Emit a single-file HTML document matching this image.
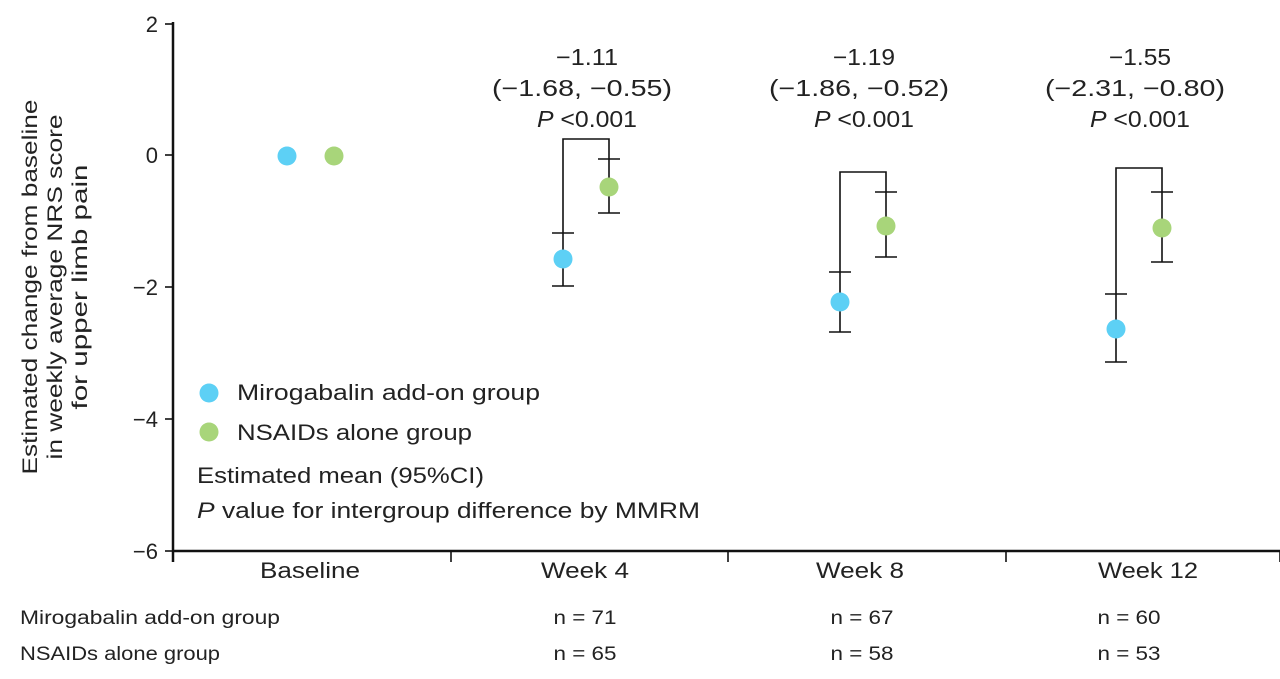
<!DOCTYPE html>
<html><head><meta charset="utf-8"><style>body{margin:0;background:#fff}svg{display:block}</style></head><body>
<svg width="1280" height="679" viewBox="0 0 1280 679" xmlns="http://www.w3.org/2000/svg" font-family="Liberation Sans, sans-serif" fill="#222">
<g stroke="#111" stroke-width="2.5" fill="none">
<line x1="173" y1="22" x2="173" y2="562"/>
<line x1="172" y1="551" x2="1282" y2="551"/>
</g>
<g stroke="#111" stroke-width="1.6">
<line x1="165" y1="24" x2="173" y2="24"/><line x1="165" y1="155" x2="173" y2="155"/>
<line x1="165" y1="287" x2="173" y2="287"/><line x1="165" y1="419" x2="173" y2="419"/>
<line x1="165" y1="551" x2="173" y2="551"/>
<line x1="451" y1="551" x2="451" y2="562"/><line x1="728" y1="551" x2="728" y2="562"/>
<line x1="1006" y1="551" x2="1006" y2="562"/><line x1="1280" y1="551" x2="1280" y2="562"/>
</g>
<g font-size="22" text-anchor="end">
<text x="158" y="32">2</text><text x="158" y="163">0</text>
<text x="158" y="295">−2</text><text x="158" y="427">−4</text><text x="158" y="559">−6</text>
</g>
<g font-size="22" text-anchor="middle">
<text x="310" y="578" textLength="100" lengthAdjust="spacingAndGlyphs">Baseline</text>
<text x="585" y="578" textLength="88" lengthAdjust="spacingAndGlyphs">Week 4</text>
<text x="860" y="578" textLength="88" lengthAdjust="spacingAndGlyphs">Week 8</text>
<text x="1148" y="578" textLength="100" lengthAdjust="spacingAndGlyphs">Week 12</text>
</g>
<g font-size="21" text-anchor="middle" transform="rotate(-90)">
<text x="-287" y="37" textLength="375" lengthAdjust="spacingAndGlyphs">Estimated change from baseline</text>
<text x="-287" y="62" textLength="345" lengthAdjust="spacingAndGlyphs">in weekly average NRS score</text>
<text x="-287" y="87" textLength="245" lengthAdjust="spacingAndGlyphs">for upper limb pain</text>
</g>
<g stroke="#111" stroke-width="1.6" fill="none">
<path d="M552 233H574M563 233V286M552 286H574"/>
<path d="M598 159H620M609 159V213M598 213H620"/>
<path d="M563 233V139H609V159"/>
<path d="M829 272H851M840 272V332M829 332H851"/>
<path d="M875 192H897M886 192V257M875 257H897"/>
<path d="M840 272V172H886V192"/>
<path d="M1105 294H1127M1116 294V362M1105 362H1127"/>
<path d="M1151 192H1173M1162 192V262M1151 262H1173"/>
<path d="M1116 294V168H1162V192"/>
</g>
<g fill="#5dd0f5"><circle cx="287" cy="156" r="9.5"/><circle cx="563" cy="259" r="9.5"/><circle cx="840" cy="302" r="9.5"/><circle cx="1116" cy="329" r="9.5"/><circle cx="209" cy="393" r="9.5"/></g>
<g fill="#a8d57a"><circle cx="334" cy="156" r="9.5"/><circle cx="609" cy="187" r="9.5"/><circle cx="886" cy="226" r="9.5"/><circle cx="1162" cy="228" r="9.5"/><circle cx="209" cy="432" r="9.5"/></g>
<g font-size="23" text-anchor="middle">
<text x="587" y="65" textLength="62" lengthAdjust="spacingAndGlyphs">−1.11</text>
<text x="582" y="96" textLength="180" lengthAdjust="spacingAndGlyphs">(−1.68, −0.55)</text>
<text x="587" y="127" textLength="100" lengthAdjust="spacingAndGlyphs"><tspan font-style="italic">P</tspan> &lt;0.001</text>
<text x="864" y="65" textLength="62" lengthAdjust="spacingAndGlyphs">−1.19</text>
<text x="859" y="96" textLength="180" lengthAdjust="spacingAndGlyphs">(−1.86, −0.52)</text>
<text x="864" y="127" textLength="100" lengthAdjust="spacingAndGlyphs"><tspan font-style="italic">P</tspan> &lt;0.001</text>
<text x="1140" y="65" textLength="62" lengthAdjust="spacingAndGlyphs">−1.55</text>
<text x="1135" y="96" textLength="180" lengthAdjust="spacingAndGlyphs">(−2.31, −0.80)</text>
<text x="1140" y="127" textLength="100" lengthAdjust="spacingAndGlyphs"><tspan font-style="italic">P</tspan> &lt;0.001</text>
</g>
<g font-size="22">
<text x="237" y="400" textLength="303" lengthAdjust="spacingAndGlyphs">Mirogabalin add-on group</text>
<text x="237" y="440" textLength="235" lengthAdjust="spacingAndGlyphs">NSAIDs alone group</text>
<text x="197" y="483" textLength="287" lengthAdjust="spacingAndGlyphs">Estimated mean (95%CI)</text>
<text x="197" y="518" textLength="503" lengthAdjust="spacingAndGlyphs"><tspan font-style="italic">P</tspan> value for intergroup difference by MMRM</text>
</g>
<g font-size="19">
<text x="20" y="624" textLength="260" lengthAdjust="spacingAndGlyphs">Mirogabalin add-on group</text>
<text x="20" y="660" textLength="200" lengthAdjust="spacingAndGlyphs">NSAIDs alone group</text>
<g text-anchor="middle">
<text x="585" y="624" textLength="63" lengthAdjust="spacingAndGlyphs">n = 71</text><text x="585" y="660" textLength="63" lengthAdjust="spacingAndGlyphs">n = 65</text>
<text x="862" y="624" textLength="63" lengthAdjust="spacingAndGlyphs">n = 67</text><text x="862" y="660" textLength="63" lengthAdjust="spacingAndGlyphs">n = 58</text>
<text x="1129" y="624" textLength="63" lengthAdjust="spacingAndGlyphs">n = 60</text><text x="1129" y="660" textLength="63" lengthAdjust="spacingAndGlyphs">n = 53</text>
</g>
</g>
</svg>
</body></html>
